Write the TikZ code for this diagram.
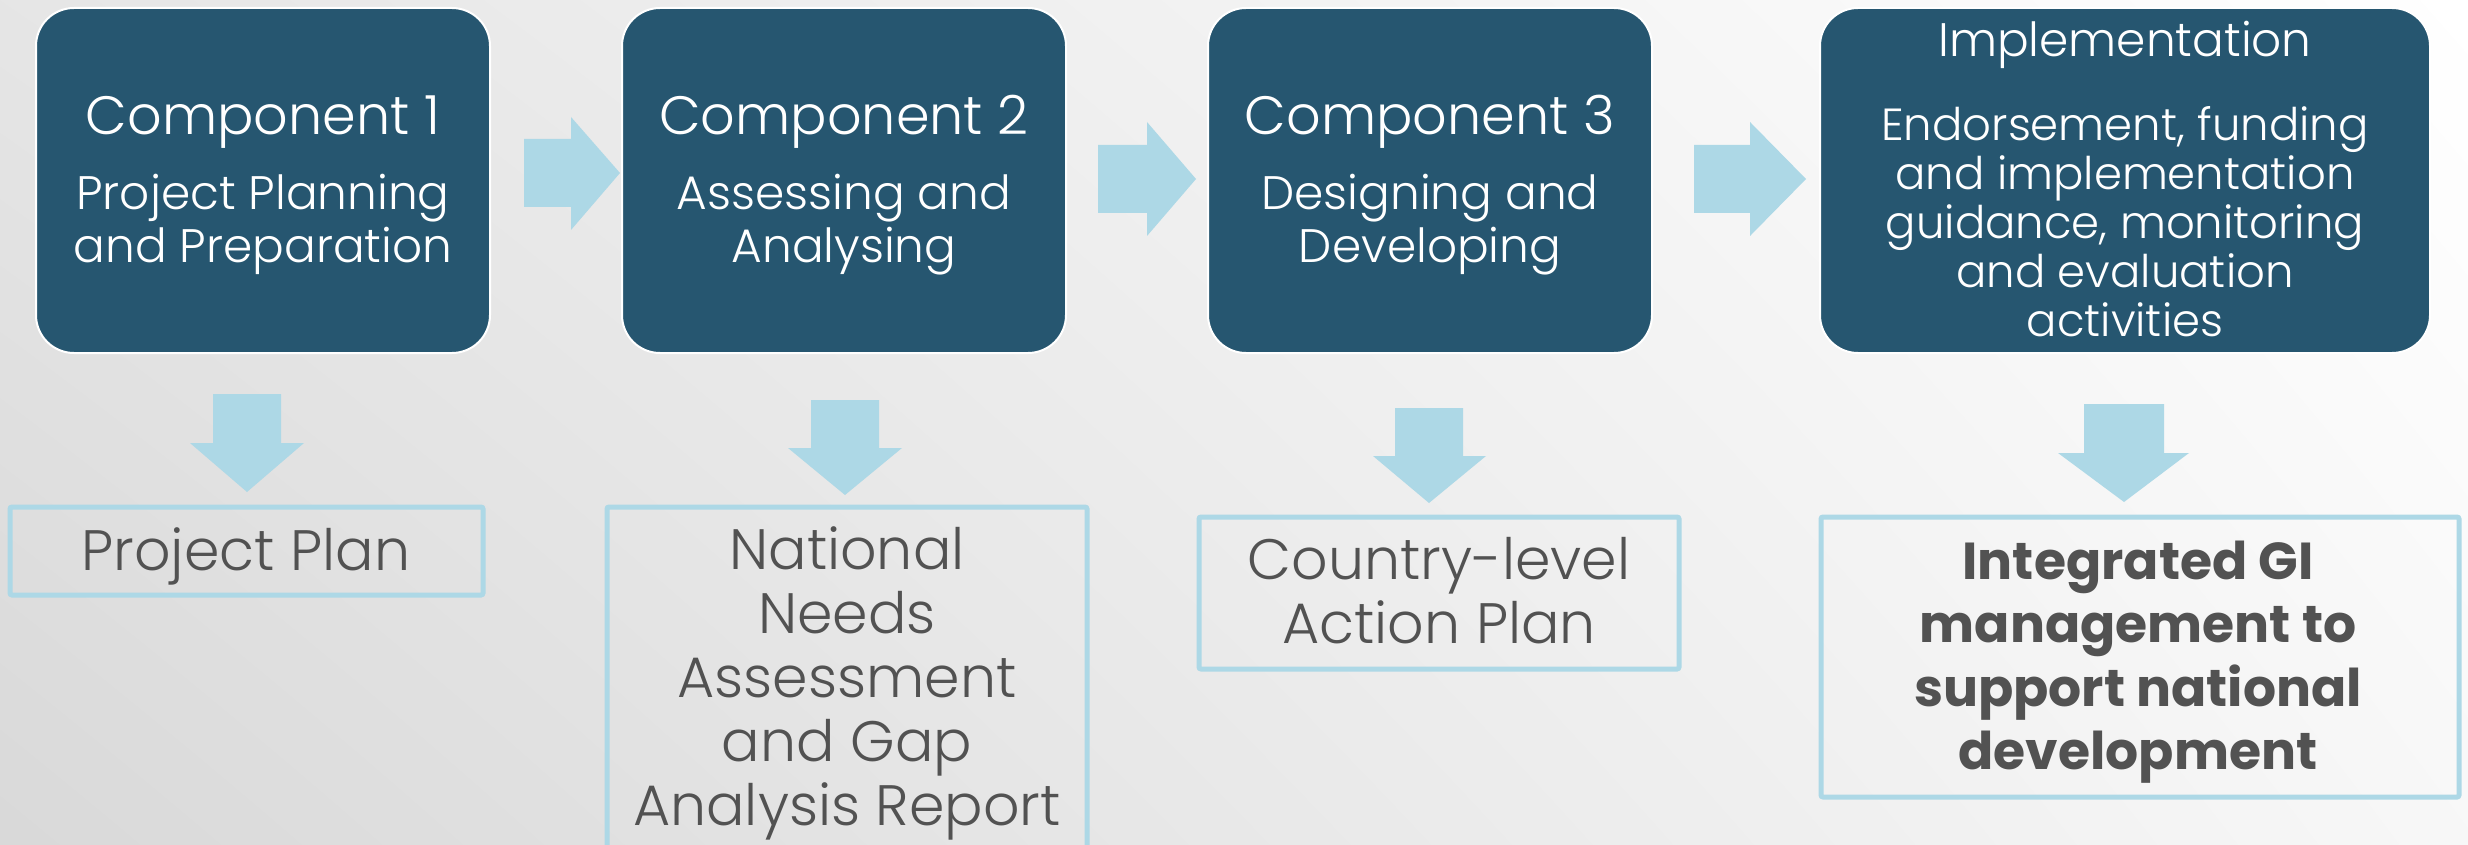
\documentclass[tikz,border=0pt]{standalone}
\usepackage{fontspec}
\setmainfont{Poppins}[UprightFont=* Light, BoldFont=* Bold]
\usetikzlibrary{shadings}
\definecolor{boxblue}{HTML}{265670}
\definecolor{arrowblue}{HTML}{ADD8E6}
\definecolor{txtgray}{HTML}{525252}
\tikzset{
  compbox/.style={fill=boxblue, draw=white, line width=2pt, rounded corners=38pt, inner sep=0pt, minimum height=345pt},
  outbox/.style={draw=arrowblue, line width=5pt, rounded corners=2pt, inner sep=0pt},
  titletext/.style={text=white, font=\fontsize{54}{60}\selectfont, anchor=base, inner sep=0pt},
  desctext/.style={text=white, font=\fontsize{47}{53}\selectfont, anchor=base, align=center, inner sep=0pt},
  impltext/.style={text=white, font=\fontsize{45}{49}\selectfont, anchor=base, align=center, inner sep=0pt},
  outtext/.style={text=txtgray, font=\fontsize{57}{64}\selectfont, anchor=base, align=center, inner sep=0pt},
  boldtext/.style={text=txtgray, font=\fontsize{52}{63.5}\selectfont\bfseries, anchor=base, align=center, inner sep=0pt},
  arrowfill/.style={fill=arrowblue},
}
\begin{document}
\begin{tikzpicture}[x=1pt,y=-1pt]
\useasboundingbox (0,0) rectangle (2468,845);
\shade[lower left=black!15, upper left=black!10, upper right=white, lower right=black!3] (0,0) rectangle (2468,845);

% component boxes
\node[compbox, minimum width=454pt] (c1) at (263,180.5) {};
\node[compbox, minimum width=444pt] (c2) at (844,180.5) {};
\node[compbox, minimum width=444pt] (c3) at (1430,180.5) {};
\node[compbox, minimum width=610pt] (c4) at (2125,180.5) {};

% texts (base anchor = baseline of the last line)
\node[titletext] (t1) at (263,135) {Component 1};
\node[desctext] (d1) at (263,262) {Project Planning\\and Preparation};
\node[titletext] (t2) at (844,135) {Component 2};
\node[desctext] (d2) at (844,262) {Assessing and\\Analysing};
\node[titletext] (t3) at (1430,135) {Component 3};
\node[desctext] (d3) at (1430,262) {Designing and\\Developing};
\node[desctext] (t4) at (2125,57) {Implementation};
\node[impltext] (d4) at (2125,336) {Endorsement, funding\\and implementation\\guidance, monitoring\\and evaluation\\activities};

% right arrows
\fill[arrowfill] (524,139) -- (571,139) -- (571,117) -- (620,173) -- (571,230) -- (571,207) -- (524,207) -- cycle;
\fill[arrowfill] (1098,145) -- (1147,145) -- (1147,122) -- (1196,179) -- (1147,236) -- (1147,213) -- (1098,213) -- cycle;
\fill[arrowfill] (1694,145) -- (1750,145) -- (1750,122) -- (1806,179) -- (1750,236) -- (1750,213) -- (1694,213) -- cycle;

% down arrows
\fill[arrowfill] (213,394) -- (281,394) -- (281,443) -- (304,443) -- (247,492) -- (190,443) -- (213,443) -- cycle;
\fill[arrowfill] (811,400) -- (879,400) -- (879,448) -- (902,448) -- (845,495) -- (788,448) -- (811,448) -- cycle;
\fill[arrowfill] (1395,408) -- (1463,408) -- (1463,456) -- (1486,456) -- (1429,503) -- (1373,456) -- (1395,456) -- cycle;
\fill[arrowfill] (2084,404) -- (2164,404) -- (2164,453) -- (2189,453) -- (2124,502) -- (2058,453) -- (2084,453) -- cycle;

% output boxes
\node[outbox, minimum width=473pt, minimum height=88pt] (o1) at (246.5,551) {};
\node[outbox, minimum width=480pt, minimum height=400pt] (o2) at (847,707) {};
\node[outbox, minimum width=480pt, minimum height=152pt] (o3) at (1439,593) {};
\node[outbox, minimum width=638pt, minimum height=280pt] (o4) at (2140,657) {};

\node[outtext] (p1) at (246,570) {Project Plan};
\node[outtext] (p2) at (847,825) {National\\Needs\\Assessment\\and Gap\\Analysis Report};
\node[outtext] (p3) at (1439,643) {Country-level\\Action Plan};
\node[boldtext] (p4) at (2138,769.5) {Integrated GI\\management to\\support national\\development};
\end{tikzpicture}
\end{document}
